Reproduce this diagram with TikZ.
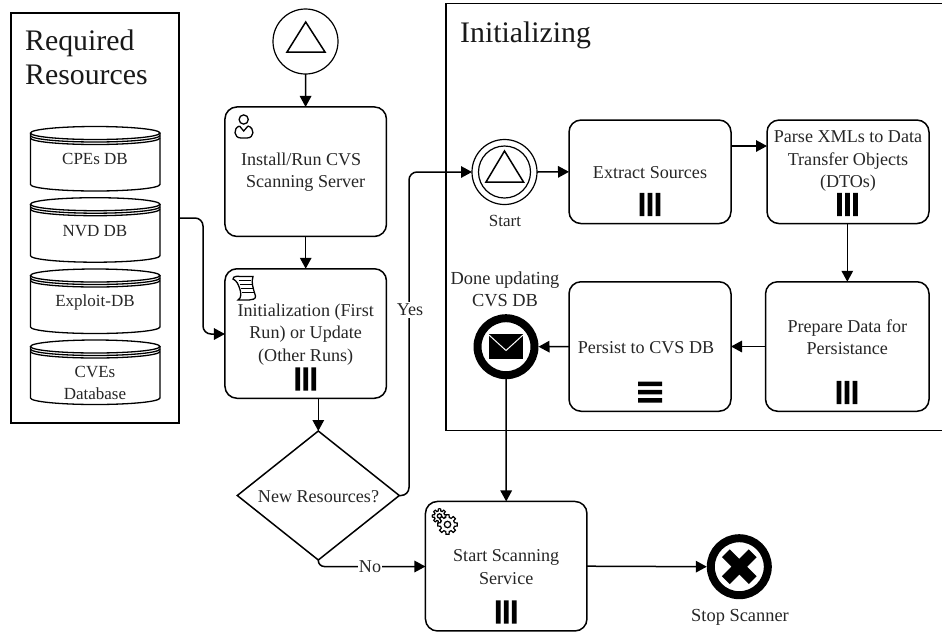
\documentclass[tikz,border=0pt]{standalone}
\usepackage{fontspec}
\setmainfont{Liberation Serif}
\usetikzlibrary{arrows.meta,shapes.geometric}
\newcommand\vertbars[2]{\fill[black] (#1-10.3,#2-11.7) rectangle ++(4.6,23.4) (#1-2.3,#2-11.7) rectangle ++(4.6,23.4) (#1+5.7,#2-11.7) rectangle ++(4.6,23.4);}
\newcommand\horzbars[2]{\fill[black] (#1-12,#2-10.5) rectangle ++(24,4.5) (#1-12,#2-2.2) rectangle ++(24,4.5) (#1-12,#2+6) rectangle ++(24,4.5);}
\newcommand\dbdrum[1]{%
  \draw[drumline] (30.5,#1+6.5) -- (30.5,#1+58) arc[start angle=180,end angle=0,x radius=64.7,y radius=6.5] -- (159.9,#1+6.5);
  \draw[drumline] (95.2,#1+6.5) ellipse[x radius=64.7,y radius=6.5];
  \draw[drumline] (30.5,#1+9) arc[start angle=180,end angle=0,x radius=64.7,y radius=6.5];
  \draw[drumline] (30.5,#1+11.5) arc[start angle=180,end angle=0,x radius=64.7,y radius=6.5];
}
\newcommand\cogwheel[5]{% cx cy rin rout rhole
  \begin{scope}[shift={(#1,#2)}]
  \filldraw[fill=white,draw=black,line width=1.2pt] (0:#4) \foreach \a in {0,45,...,315} {
     -- (\a+9:#4) -- (\a+14:#3) -- (\a+31:#3) -- (\a+36:#4) -- (\a+45:#4)} -- cycle;
  \draw[line width=1.3pt] (0,0) circle[radius=#5];
  \end{scope}
}
\tikzset{
  taskbox/.style={draw,line width=1.5pt,rectangle,rounded corners=12pt,inner sep=0pt,outer sep=0pt},
  flow/.style={line width=1.5pt,-{Triangle[length=11pt,width=11.5pt]}},
  drumline/.style={line width=1.3pt},
  txt/.style={align=center,inner sep=0pt,font=\fontsize{18.1}{22.3}\selectfont,text=black!85},
  smalltxt/.style={txt,font=\fontsize{17}{22.3}\selectfont},
  eventtxt/.style={txt,font=\fontsize{18.4}{22.3}\selectfont},
  titletxt/.style={align=left,inner sep=0pt,font=\fontsize{29.8}{33.5}\selectfont,text=black!90},
  thinevent/.style={draw,circle,line width=1.2pt,minimum size=65pt,inner sep=0pt,outer sep=0pt},
  fatevent/.style={draw,circle,line width=8pt,minimum size=57pt,inner sep=0pt,outer sep=4pt},
  wedge/.style={line width=1.5pt,line join=miter},
  lane/.style={draw,line width=1.5pt,rectangle,inner sep=0pt,outer sep=0pt},
}
\begin{document}
\begin{tikzpicture}[x=1pt,y=-1pt]
\useasboundingbox (0,0) rectangle (942,633);
% lanes
\node[lane,minimum width=168pt,minimum height=410pt] (req) at (95,218) {};
\node[titletxt,anchor=base west] (reqt) at (25,84) {Required\\Resources};
\draw[line width=1.5pt] (942,3.5) -- (446,3.5) -- (446,430.7) -- (942,430.7);
\node[titletxt,anchor=base west] (initt) at (460,42) {Initializing};
% drums
\dbdrum{126.5}\dbdrum{197.7}\dbdrum{269}\dbdrum{340}
\node[smalltxt] (d1) at (95,159) {CPEs DB};
\node[smalltxt] (d2) at (95,231) {NVD DB};
\node[smalltxt] (d3) at (95,302) {Exploit-DB};
\node[smalltxt] (d4) at (95,383) {CVEs\\Database};
% main column
\node[thinevent] (top) at (305.5,41.5) {};
\draw[wedge] (305.7,22) -- (325,52) -- (287,52) -- cycle;
\node[taskbox,minimum width=161.5pt,minimum height=129.5pt] (install) at (305.7,171.7) {};
\node[txt] (installt) at (305.7,172) {Install/Run CVS\hspace*{9pt}\\Scanning Server};
\node[taskbox,minimum width=161.5pt,minimum height=129.5pt] (init) at (305.7,333.5) {};
\node[txt] (initxt) at (305.7,334.5) {Initialization (First\\Run) or Update\\(Other Runs)};
\vertbars{305.7}{379}
\node[diamond,draw,line width=1.5pt,minimum width=162pt,minimum height=129pt,inner sep=0pt,outer sep=0pt] (gate) at (318.3,495.5) {};
\node[txt] (gatet) at (318.5,496.5) {New Resources?};
% scanning
\node[taskbox,minimum width=161.5pt,minimum height=129.5pt] (scan) at (506.2,566.2) {};
\node[txt] (scant) at (506.2,567) {Start Scanning\\Service};
\vertbars{506.2}{612}
\node[fatevent] (stop) at (739.3,566.7) {};
\begin{scope}[shift={(739.3,566.7)},rotate=45]
\fill[black] (-19,-5.5) rectangle (19,5.5) (-5.5,-19) rectangle (5.5,19);
\end{scope}
\node[eventtxt,anchor=base] (stopt) at (740,621) {Stop Scanner};
% initializing lane
\node[thinevent] (start) at (504.5,172) {};
\draw[line width=1.2pt] (504.5,172) circle[radius=26];
\draw[wedge] (504.5,151) -- (523.5,182) -- (486,182) -- cycle;
\node[smalltxt,anchor=base] (startt) at (505,226) {Start};
\node[taskbox,minimum width=162pt,minimum height=103.5pt] (extract) at (650,171.8) {};
\node[txt] (extractt) at (650,173) {Extract Sources};
\vertbars{650}{204.5}
\node[taskbox,minimum width=162pt,minimum height=103.5pt] (parse) at (848,171.8) {};
\node[txt] (parset) at (848,161) {Parse XMLs to Data\\Transfer Objects\\(DTOs)};
\vertbars{847.5}{204.5}
\node[taskbox,minimum width=163.5pt,minimum height=129.5pt] (prep) at (847.3,346.5) {};
\node[txt] (prept) at (847.3,337) {Prepare Data for\\Persistance};
\vertbars{847}{392.5}
\node[taskbox,minimum width=162pt,minimum height=129.5pt] (persist) at (650,346.5) {};
\node[txt] (persistt) at (646,347.5) {Persist to CVS DB};
\horzbars{650}{392}
\node[fatevent] (mail) at (506,346.7) {};
\fill[black] (489,334) rectangle (523,358.7);
\draw[white,line width=1pt] (489,335) -- (506,350.5) -- (523,335);
\node[eventtxt] (mailt) at (505,289) {Done updating\\CVS DB};
% icons
\draw[line width=1.3pt] (243.7,119.5) circle[radius=4.6];
\draw[line width=1.3pt] (239.5,126) .. controls (233,128) and (233.5,138) .. (241,138) -- (247,138) .. controls (254.5,138) and (255,128) .. (248,126);
\draw[line width=1.3pt] (239.5,126) -- (243.7,131) -- (248,126);
\draw[line width=1.3pt] (233,279) .. controls (233,276) and (238,276) .. (240,276.5) -- (253,276.5) .. controls (251,282) and (253,288) .. (255.5,296) .. controls (256,299) and (252,300) .. (249,300) -- (238,300) .. controls (242,298) and (241,292) .. (239.5,288) .. controls (238,284) and (237,281) .. (233,279) -- cycle;
\draw[line width=1.7pt] (238.5,280.5) -- (251,280.5) (240,284.5) -- (251.5,284.5) (241,288.5) -- (252.5,288.5) (242,292.5) -- (253.5,292.5);
\cogwheel{439.5}{516}{5.2}{7.2}{2.2}
\cogwheel{447.5}{524.5}{7.2}{9.8}{3.2}
% connectors
\draw[flow] (top) -- (install);
\draw[flow] (install) -- (init);
\draw[flow] (init.south -| gate.north) -- (gate.north);
\coordinate (reqbend) at (203,218);
\coordinate (initin) at (225,334);
\draw[flow,rounded corners=8pt] (req.east) -- (reqbend) -- (reqbend |- initin) -- (init.west |- initin);
\coordinate (yesx) at (409,0);
\draw[flow,rounded corners=8pt] (gate.east) -- (yesx |- gate.east) -- (yesx |- start.west) -- (start.west);
\node[txt,fill=white,inner sep=2pt] (yes) at (410,310) {Yes};
\coordinate (noy) at (0,566.5);
\draw[flow,rounded corners=6pt] (gate.south) -- (gate.south |- noy) -- (scan.west |- noy);
\node[txt,fill=white,inner sep=1pt] (no) at (370,567) {No};
\draw[flow] (start.east) -- (extract.west);
\coordinate (eparse) at (extract.east |- 0,146);
\draw[flow] (eparse) -- (eparse -| parse.west);
\draw[flow] (parse.south -| prep.north) -- (prep.north);
\draw[flow] (prep.west) -- (persist.east);
\draw[flow] (persist.west) -- (mail.east);
\draw[flow] (mail.south) -- (scan.north);
\draw[flow] (scan.east) -- (stop.west);
\end{tikzpicture}
\end{document}
